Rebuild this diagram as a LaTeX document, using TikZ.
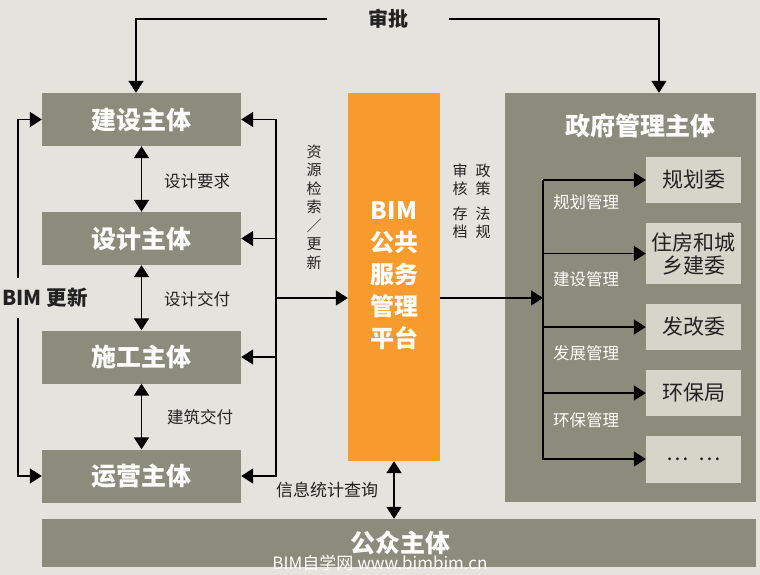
\documentclass[tikz,border=0pt]{standalone}
\usepackage{fontspec}
\setmainfont{Noto Sans CJK SC}
\usetikzlibrary{arrows.meta,calc}
\definecolor{bgc}{HTML}{E4E3DD}
\definecolor{boxg}{HTML}{8B8C7B}
\definecolor{innerc}{HTML}{D5D5CA}
\definecolor{orangec}{HTML}{F89B2F}
\definecolor{darkt}{HTML}{222222}
\tikzset{
  box/.style={fill=boxg, text=white, font=\fontsize{25}{28}\selectfont\bfseries, inner sep=0pt, minimum width=199pt, minimum height=53pt},
  ibox/.style={fill=innerc, text=darkt, font=\fontsize{21}{23}\selectfont, inner sep=0pt, minimum width=95pt, minimum height=46pt, align=center},
  lbl/.style={text=darkt, font=\fontsize{16.5}{18}\selectfont, inner sep=0pt},
  wlbl/.style={text=white, font=\fontsize{16.5}{18}\selectfont, inner sep=0pt},
  vtxt/.style={text=darkt, font=\fontsize{15}{18.5}\selectfont, inner sep=0pt, align=center},
  arr/.style={line width=1.8pt, draw=black, -{Triangle[length=12pt,width=15pt]}},
  dbl/.style={line width=1.8pt, draw=black, {Triangle[length=12pt,width=15pt]}-{Triangle[length=12pt,width=15pt]}},
  ln/.style={line width=1.8pt, draw=black}
}
\begin{document}
\begin{tikzpicture}[x=1pt,y=-1pt]
\fill[bgc] (0,0) rectangle (760,575);
\useasboundingbox (0,0) rectangle (760,575);

% left column boxes
\node[box] (jianshe) at (141.5,119.5) {建设主体};
\node[box] (sheji) at (141.5,238.5) {设计主体};
\node[box] (shigong) at (141.5,357) {施工主体};
\node[box] (yunying) at (141.5,476) {运营主体};

% bottom public box
\node[fill=boxg, inner sep=0pt, minimum width=714pt, minimum height=48pt] (gongzhong) at (399,543) {};
\node[text=white, font=\fontsize{25}{28}\selectfont\bfseries, inner sep=0pt] (gztext) at (400,543) {公众主体};

% platform
\node[fill=orangec, inner sep=0pt, minimum width=92pt, minimum height=368pt] (platform) at (394,277) {};
\node[text=white, font=\fontsize{24}{32}\selectfont\bfseries, align=center, inner sep=0pt] (ptext) at (394,276) {BIM\\公共\\服务\\管理\\平台};

% government panel
\node[fill=boxg, inner sep=0pt, minimum width=251pt, minimum height=409pt] (gov) at (630.5,297.5) {};
\node[text=white, font=\fontsize{25}{28}\selectfont\bfseries, inner sep=0pt] (govtitle) at (640,126) {政府管理主体};

\node[ibox] (g1) at (693.5,180) {规划委};
\node[ibox, minimum height=61pt] (g2) at (693.5,253.5) {住房和城\\乡建委};
\node[ibox] (g3) at (693.5,327) {发改委};
\node[ibox] (g4) at (693.5,393) {环保局};
\node[ibox, minimum height=47pt] (g5) at (693.5,459) {…\hspace{10pt}…};

% 审批
\node[text=darkt, font=\fontsize{20}{22}\selectfont\bfseries, inner ysep=0pt, inner xsep=41pt] (shenpi) at (388,19) {审批};
\draw[arr] (shenpi.west) -| ([xshift=-5.5pt]jianshe.north);
\draw[arr] (shenpi.east) -| ([xshift=28.5pt]gov.north);

% vertical double arrows between left boxes
\draw[dbl] (jianshe.south) -- (sheji.north);
\draw[dbl] (sheji.south) -- (shigong.north);
\draw[dbl] (shigong.south) -- (yunying.north);
\node[lbl] (l1) at (197,181) {设计要求};
\node[lbl] (l2) at (197,299) {设计交付};
\node[lbl] (l3) at (200,417) {建筑交付};

% right bus of left column
\coordinate (rbt) at (276,119.5);
\coordinate (rbm) at (276,298);
\draw[arr] (rbt) -- (jianshe.east);
\draw[arr] (rbt) |- (yunying.east);
\draw[arr] (sheji.east -| rbt) -- (sheji.east);
\draw[arr] (shigong.east -| rbt) -- (shigong.east);
\draw[arr] (rbm) -- (rbm -| platform.west);
\node[vtxt] (res) at (314,207) {资\\源\\检\\索\\／\\更\\新};

% left bus
\coordinate (lbt) at (18,119.5);
\draw[arr] (lbt) -- (jianshe.west);
\draw[arr] (lbt) |- (yunying.west);
\node[fill=bgc, text=darkt, font=\fontsize{20.5}{22}\selectfont\bfseries, inner xsep=0pt, inner ysep=10pt] (bimup) at (45,298) {BIM 更新};

% platform to government
\coordinate (gt) at (543,180);
\coordinate (gm) at (543,298);
\draw[arr] (platform.east |- gm) -- (gm);
\draw[arr] (gt) -- (g1.west);
\draw[arr] (gt) |- (g5.west);
\draw[arr] (g2.west -| gt) -- (g2.west);
\draw[arr] (g3.west -| gt) -- (g3.west);
\draw[arr] (g4.west -| gt) -- (g4.west);
\node[wlbl] (m1) at (586,202) {规划管理};
\node[wlbl] (m2) at (586,279) {建设管理};
\node[wlbl] (m3) at (586,353) {发展管理};
\node[wlbl] (m4) at (586,420) {环保管理};

\node[vtxt, font=\fontsize{15}{18}\selectfont] (sh) at (460,201) {审\\核\\[7pt]存\\档};
\node[vtxt, font=\fontsize{15}{18}\selectfont] (zc) at (483,201) {政\\策\\[7pt]法\\规};

% platform to public
\draw[dbl] (platform.south) -- (platform.south |- gongzhong.north);
\node[lbl, font=\fontsize{17}{19}\selectfont] (query) at (327,490) {信息统计查询};

% watermark
\node[text=white, font=\fontsize{17}{19}\selectfont, inner sep=0pt] (wm) at (380,563) {BIM自学网 www.bimbim.cn};
\end{tikzpicture}
\end{document}
